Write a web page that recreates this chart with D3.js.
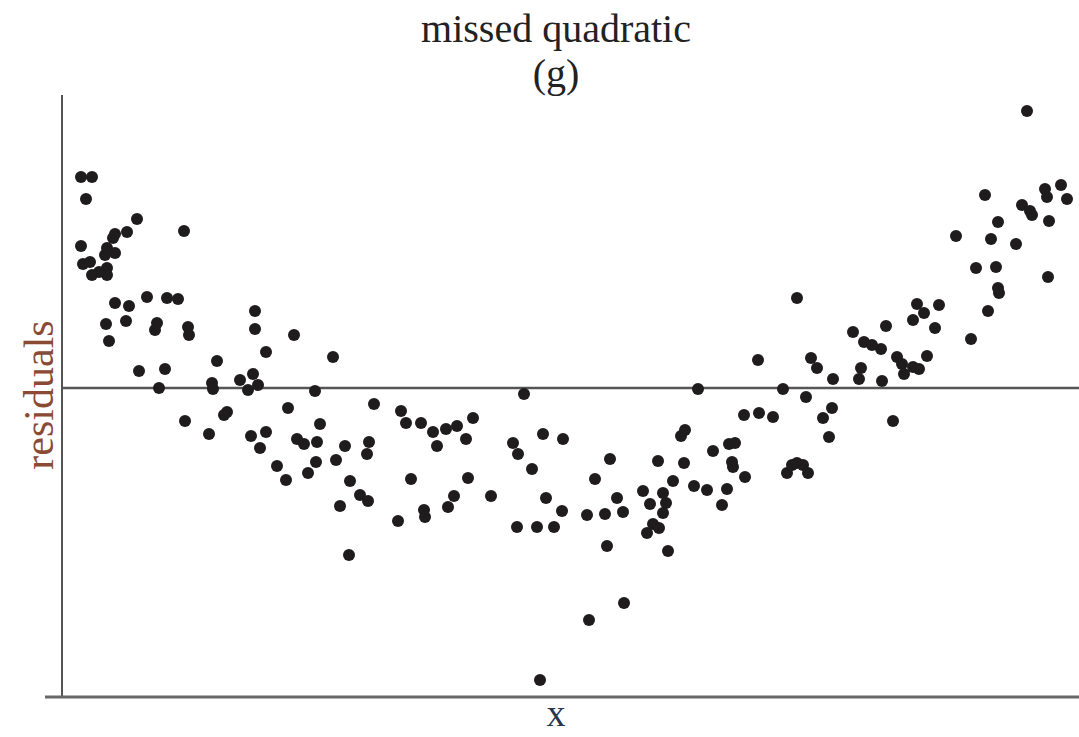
<!DOCTYPE html>
<html lang="en">
<head>
  <meta charset="UTF-8" />
  <title>missed quadratic (g)</title>
  <script src="https://d3js.org/d3.v7.min.js"></script>
  <style>
    body {
      margin: 0;
      background: #fff;
    }
    text {
      font-family: "Liberation Serif", "DejaVu Serif", serif;
    }
  </style>
</head>
<body>

<svg width="1079" height="737"></svg>

<script>
  // x positions and residuals
  const xValues = [
    1.9, 3.0, 2.4, 7.5, 12.2, 5.3, 6.5, 5.1, 1.9, 4.5, 4.3, 5.3, 2.1, 2.8, 3.0, 4.5, 4.5, 3.7,
    5.3, 6.7, 8.5, 10.5, 11.6, 4.4, 6.4, 9.5, 9.3, 12.6, 12.7, 4.7, 15.5, 7.7, 10.3, 9.7, 15.0,
    15.1, 17.8, 12.3, 16.5, 16.2, 14.7, 19.3, 19.3, 23.2, 20.4, 27.1, 19.1, 19.6, 18.6, 25.3,
    22.6, 31.2, 33.9, 34.4, 18.9, 20.4, 19.8, 23.5, 24.2, 25.5, 25.8, 28.3, 30.7, 30.5, 21.5,
    22.4, 25.4, 24.6, 27.4, 28.8, 34.9, 29.8, 30.6, 27.8, 33.6, 28.7, 46.2, 35.9, 37.1, 38.4,
    39.5, 41.1, 37.5, 40.4, 45.1, 45.6, 48.1, 50.1, 47.0, 40.6, 39.2, 38.6, 36.2, 36.3, 42.9,
    48.4, 50.0, 45.5, 47.5, 49.2, 47.8, 63.6, 68.2, 62.3, 61.9, 65.1, 66.7, 67.3, 54.8, 59.6,
    62.2, 67.0, 67.1, 53.3, 61.1, 68.3, 63.2, 64.5, 66.5, 66.0, 58.1, 55.5, 58.8, 60.1, 60.4,
    60.1, 52.5, 54.3, 56.1, 59.1, 59.7, 58.5, 54.5, 60.6, 56.2, 52.7, 73.5, 69.6, 74.9, 75.5,
    77.1, 72.1, 74.4, 79.1, 80.2, 81.0, 81.9, 82.4, 79.9, 79.7, 82.0, 83.5, 84.0, 84.2, 85.1,
    85.1, 85.5, 69.7, 71.1, 77.0, 76.1, 76.7, 83.1, 72.5, 73.0, 73.5, 74.1, 74.6, 96.5, 99.9,
    98.3, 98.5, 100.5, 92.3, 96.0, 96.8, 97.0, 98.7, 93.6, 89.4, 92.9, 95.4, 91.4, 93.4, 98.6,
    93.6, 93.7, 87.7, 86.2, 87.3, 92.6, 90.9, 86.5, 85.7
  ];
  const residuals = [
    2.11, 2.11, 1.89, 1.69, 1.57, 1.54, 1.56, 1.50, 1.42, 1.40, 1.33, 1.35, 1.24, 1.26, 1.13, 1.20, 1.13, 1.16,
    0.85, 0.82, 0.91, 0.90, 0.89, 0.64, 0.67, 0.65, 0.58, 0.61, 0.53, 0.47, 0.27, 0.17, 0.19, 0.00, 0.05,
    -0.01, 0.08, -0.33, -0.24, -0.27, -0.46, 0.77, 0.59, 0.53, 0.36, 0.31, 0.14, 0.03, -0.02, -0.03,
    -0.20, -0.16, -0.23, -0.35, -0.48, -0.44, -0.60, -0.51, -0.56, -0.54, -0.36, -0.58, -0.54, -0.66, -0.78,
    -0.92, -0.74, -0.85, -0.72, -0.93, -0.91, -1.07, -1.13, -1.18, -1.33, -1.67, -0.06, -0.35, -0.44, -0.41,
    -0.38, -0.30, -0.58, -0.51, -0.55, -0.66, -0.46, -0.51, -0.81, -0.90, -1.08, -1.19, -1.22, -1.29, -1.08,
    -1.10, -1.23, -1.39, -1.39, -1.39, -2.92, -0.01, -0.27, -0.42, -0.48, -0.63, -0.56, -0.55, -0.71, -0.73,
    -0.75, -0.74, -0.79, -0.91, -0.93, -0.89, -0.98, -1.02, -1.01, -1.17, -1.03, -1.10, -1.16, -1.05, -1.15,
    -1.25, -1.27, -1.26, -1.24, -1.36, -1.40, -1.45, -1.58, -1.63, -2.15, -2.32, 0.90, 0.28, 0.30, 0.20,
    0.09, -0.01, -0.09, 0.56, 0.46, 0.43, 0.39, 0.62, 0.20, 0.09, 0.07, 0.31, 0.24, 0.14, 0.21,
    0.68, 0.84, -0.25, -0.29, -0.20, -0.30, -0.49, -0.33, -0.85, -0.77, -0.75, -0.77, -0.85, 2.77, 2.03,
    1.99, 1.91, 1.89, 1.93, 1.83, 1.77, 1.73, 1.67, 1.66, 1.52, 1.49, 1.44, 1.20, 1.21, 1.11,
    1.00, 0.95, 0.83, 0.75, 0.60, 0.77, 0.49, 0.32, 0.19
  ];
  const titleLines = ["missed quadratic", "(g)"];
  const xLabel = "x";
  const yLabel = "residuals";

  const data = xValues.map((x, i) => ({ x: x, r: residuals[i] }));

  const svg = d3.select("svg");

  const xScale = d3.scaleLinear()
    .domain([0, 101.7])
    .range([62, 1079]);

  const yScale = d3.scaleLinear()
    .domain([-3.09, 2.93])
    .range([697, 95]);

  // left axis line
  svg.append("line")
    .attr("x1", xScale(0)).attr("x2", xScale(0))
    .attr("y1", yScale(2.93)).attr("y2", yScale(-3.09))
    .attr("stroke", "#555")
    .attr("stroke-width", 2);

  // bottom axis line (overhangs the left axis a bit)
  svg.append("line")
    .attr("x1", xScale(-1.7)).attr("x2", xScale(101.7))
    .attr("y1", yScale(-3.09)).attr("y2", yScale(-3.09))
    .attr("stroke", "#666")
    .attr("stroke-width", 3);

  // zero residual line
  svg.append("line")
    .attr("x1", xScale(0)).attr("x2", xScale(101.7))
    .attr("y1", yScale(0)).attr("y2", yScale(0))
    .attr("stroke", "#555")
    .attr("stroke-width", 2.5);

  // points
  svg.selectAll("circle")
    .data(data)
    .enter()
    .append("circle")
    .attr("cx", d => xScale(d.x))
    .attr("cy", d => yScale(d.r))
    .attr("r", 6)
    .attr("fill", "#1e1c1c");

  // titles
  svg.selectAll(".title")
    .data(titleLines)
    .enter()
    .append("text")
    .attr("class", "title")
    .attr("x", 556)
    .attr("y", (d, i) => 42 + i * 45)
    .attr("text-anchor", "middle")
    .attr("font-size", 40)
    .attr("fill", "#222")
    .text(d => d);

  svg.append("text")
    .attr("x", 556)
    .attr("y", 726)
    .attr("text-anchor", "middle")
    .attr("font-size", 38)
    .attr("fill", "#2a3550")
    .text(xLabel);

  svg.append("text")
    .attr("transform", "translate(53,395) rotate(-90)")
    .attr("text-anchor", "middle")
    .attr("font-size", 42)
    .attr("fill", "#8b4a33")
    .text(yLabel);
</script>

</body>
</html>
